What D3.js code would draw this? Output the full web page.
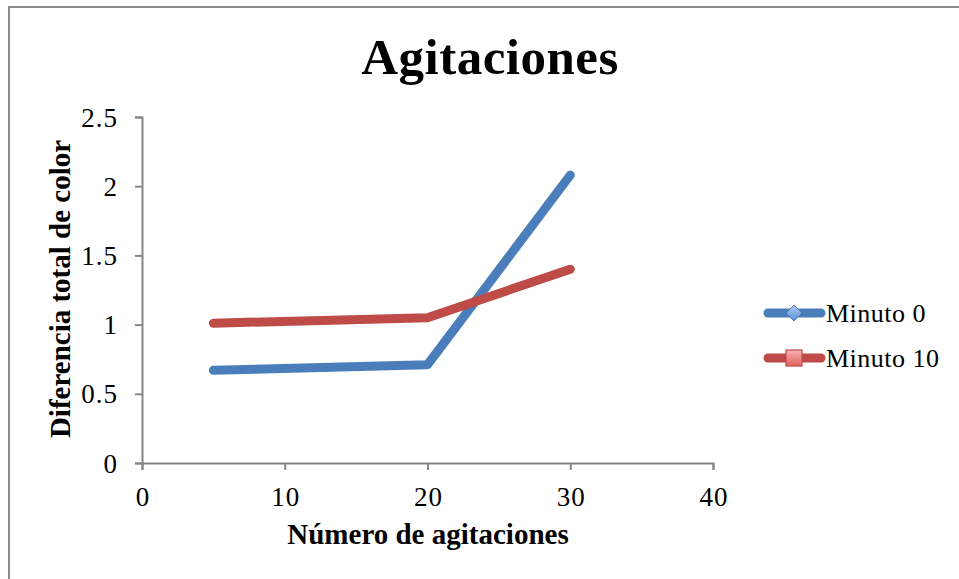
<!DOCTYPE html>
<html>
<head>
<meta charset="utf-8">
<script src="https://cdn.jsdelivr.net/npm/d3@7"></script>
<style>
  html, body { margin: 0; padding: 0; background: #fff; }
  svg { display: block; }
  text { font-family: "Liberation Serif", "DejaVu Serif", serif; fill: #000; }
</style>
</head>
<body>
<svg id="chart" width="959" height="579"></svg>
<script>
// Número de agitaciones vs. diferencia total de color
const agitaciones = [5, 20, 30];
const minuto0 = [0.67, 0.71, 2.08];
const minuto10 = [1.01, 1.05, 1.40];
const seriesNames = ["Minuto 0", "Minuto 10"];
const seriesColors = ["#4A7EBB", "#BE4B48"];
const xTicks = [0, 10, 20, 30, 40];
const yTicks = [0, 0.5, 1, 1.5, 2, 2.5];

const svg = d3.select("#chart");

// gradients for legend markers
const defs = svg.append("defs");
const gBlue = defs.append("linearGradient").attr("id", "gBlue").attr("x1", 0).attr("y1", 0).attr("x2", 0).attr("y2", 1);
gBlue.append("stop").attr("offset", "0%").attr("stop-color", "#a9c6ee");
gBlue.append("stop").attr("offset", "100%").attr("stop-color", "#5f93d6");
const gRed = defs.append("linearGradient").attr("id", "gRed").attr("x1", 0).attr("y1", 0).attr("x2", 0).attr("y2", 1);
gRed.append("stop").attr("offset", "0%").attr("stop-color", "#f7b3b1");
gRed.append("stop").attr("offset", "100%").attr("stop-color", "#e0625f");

// chart area frame
svg.append("rect")
  .attr("x", 9).attr("y", 7)
  .attr("width", 1000).attr("height", 1000)
  .attr("fill", "#fff")
  .attr("stroke", "#8c8c8c").attr("stroke-width", 2);

const x = d3.scaleLinear().domain([0, 40]).range([142, 713]);
const y = d3.scaleLinear().domain([0, 2.5]).range([463, 117]);

// axes
const xAxis = svg.append("g")
  .attr("transform", `translate(0,${y(0)})`)
  .call(d3.axisBottom(x).tickValues(xTicks).tickSize(7).tickPadding(0).tickFormat(d3.format("d")));
const yAxis = svg.append("g")
  .attr("transform", `translate(${x(0)},0)`)
  .call(d3.axisLeft(y).tickValues(yTicks).tickSize(7).tickPadding(17).tickFormat(d => String(d)));

[xAxis, yAxis].forEach(g => {
  g.attr("font-family", null).attr("font-size", null);
  g.select(".domain").attr("stroke", "#868686").attr("stroke-width", 2);
  g.selectAll(".tick line").attr("stroke", "#868686").attr("stroke-width", 2);
  g.selectAll(".tick text")
    .style("font-family", "'Liberation Serif', serif")
    .style("font-size", "27px")
    .attr("fill", "#000");
});
xAxis.selectAll(".tick text").attr("y", 43).attr("dy", null).attr("dx", 0.5).style("letter-spacing", "1px");
yAxis.selectAll(".tick text").attr("dy", "0.34em").style("letter-spacing", "1px");

// series lines
const line = d3.line().x((d, i) => x(agitaciones[i])).y(d => y(d));
[minuto0, minuto10].forEach((vals, k) => {
  svg.append("path")
    .datum(vals)
    .attr("d", line)
    .attr("fill", "none")
    .attr("stroke", seriesColors[k])
    .attr("stroke-width", 9)
    .attr("stroke-linecap", "round")
    .attr("stroke-linejoin", "round");
});

// title
svg.append("text")
  .attr("x", 490).attr("y", 74)
  .attr("text-anchor", "middle")
  .style("font-size", "51px").attr("font-weight", "bold")
  .attr("letter-spacing", 0.5)
  .text("Agitaciones");

// axis titles
svg.append("text")
  .attr("x", 428).attr("y", 544)
  .attr("text-anchor", "middle")
  .style("font-size", "29px").attr("font-weight", "bold")
  .text("Número de agitaciones");

svg.append("text")
  .attr("transform", "translate(70,289) rotate(-90)")
  .attr("text-anchor", "middle")
  .style("font-size", "29px").attr("font-weight", "bold")
  .text("Diferencia total de color");

// legend
const legendY = [313, 358];
const legend = svg.append("g");
seriesNames.forEach((name, k) => {
  const g = legend.append("g").attr("transform", `translate(0,${legendY[k]})`);
  g.append("line")
    .attr("x1", 768).attr("x2", 821)
    .attr("stroke", seriesColors[k]).attr("stroke-width", 9)
    .attr("stroke-linecap", "round");
  if (k === 0) {
    g.append("path")
      .attr("d", "M794,-8L802,0L794,8L786,0Z")
      .attr("fill", "url(#gBlue)").attr("stroke", "#4A7EBB").attr("stroke-width", 1);
  } else {
    g.append("rect")
      .attr("x", 786).attr("y", -8).attr("width", 16).attr("height", 16)
      .attr("fill", "url(#gRed)").attr("stroke", "#BE4B48").attr("stroke-width", 1.2);
  }
  g.append("text")
    .attr("x", 826).attr("y", 9)
    .style("font-size", "26px")
    .style("letter-spacing", "0.5px")
    .text(name);
});
</script>
</body>
</html>
